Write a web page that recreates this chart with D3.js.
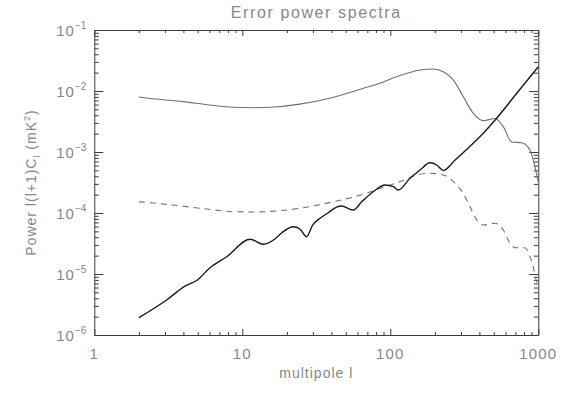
<!DOCTYPE html>
<html><head><meta charset="utf-8">
<script src="https://cdn.jsdelivr.net/npm/d3@7"></script>
<style>
html,body{margin:0;padding:0;background:#fff;}
svg{display:block;}
text{font-family:"Liberation Sans","DejaVu Sans",sans-serif;fill:#878787;}
</style></head>
<body><svg id="c" width="566" height="396"></svg>
<script>
// ---- data ----
const signalL = [2, 2.6, 4, 6, 8.7, 12, 15.4, 24.5, 39, 66, 85, 110, 159, 195, 228, 267, 311, 364, 425, 510, 580, 661, 773, 879, 950, 1000];
const signalP = [8.0e-3, 7.4e-3, 6.7e-3, 5.9e-3, 5.4e-3, 5.3e-3, 5.4e-3, 6.1e-3, 7.6e-3, 0.0111, 0.0134, 0.0171, 0.0221, 0.0230, 0.0207, 0.0151, 8.1e-3, 4.3e-3, 3.26e-3, 3.54e-3, 2.6e-3, 1.46e-3, 1.42e-3, 1.08e-3, 5.7e-4, 3.2e-4];

const noiseL = [2, 3.08, 4.1, 4.97, 6.05, 7.85, 11.3, 13.9, 16.6, 18.5, 22.1, 24.5, 27.2, 29.9, 33.5, 38.1, 43.4, 46.9, 56.2, 64.1, 76.7, 92.1, 105, 113, 136, 159, 185, 206, 228, 274, 325, 425, 523, 715, 1000];
const noiseP = [1.92e-6, 3.75e-6, 6.35e-6, 7.97e-6, 1.27e-5, 1.92e-5, 3.71e-5, 3.07e-5, 3.75e-5, 4.75e-5, 5.96e-5, 5.47e-5, 4.09e-5, 6.35e-5, 8.18e-5, 1.01e-4, 1.25e-4, 1.30e-4, 1.12e-4, 1.53e-4, 2.23e-4, 2.88e-4, 2.70e-4, 2.38e-4, 3.71e-4, 5.07e-4, 6.68e-4, 6.12e-4, 4.98e-4, 7.39e-4, 1.08e-3, 2.03e-3, 3.57e-3, 9.17e-3, 0.0250];

const errL = [2, 3.42, 5.75, 8.69, 11.9, 17.1, 25.8, 35.3, 43.4, 65.7, 89.7, 116, 151, 185, 228, 267, 311, 346, 384, 425, 510, 580, 644, 696, 813, 879, 925, 965, 1000];
const errP = [1.53e-4, 1.35e-4, 1.16e-4, 1.05e-4, 1.04e-4, 1.08e-4, 1.22e-4, 1.41e-4, 1.57e-4, 2.03e-4, 2.64e-4, 3.26e-4, 4.20e-4, 4.48e-4, 4.20e-4, 3.26e-4, 2.10e-4, 1.27e-4, 7.68e-5, 6.35e-5, 6.78e-5, 5.27e-5, 3.19e-5, 2.70e-5, 2.70e-5, 1.92e-5, 1.32e-5, 8.0e-6, 6.6e-6];

const xMajor = [1, 10, 100, 1000];
const xMajorLabels = ["1", "10", "100", "1000"];
const yMajor = [1e-6, 1e-5, 1e-4, 1e-3, 1e-2, 1e-1];
const yExp = ["-6", "-5", "-4", "-3", "-2", "-1"];

const titleText = "Error power spectra";
const xTitle = "multipole l";

// ---- layout ----
const svg = d3.select("#c");
const L = 94.3, R = 538.3, T = 30, B = 335;
const x = d3.scaleLog().domain([1, 1000]).range([L, R]);
const y = d3.scaleLog().domain([1e-6, 1e-1]).range([B, T]);

const axisColor = "#3c3c3c";

function allTicks(lo, hi) {
  const out = [];
  for (let d = lo; d < hi; d *= 10) for (let k = 1; k <= 9; k++) out.push(d * k);
  out.push(hi);
  return out;
}
const xTicks = allTicks(1, 1000);
const yTicks = allTicks(1e-6, 1e-1);
const isMajor = v => Math.abs(Math.log10(v) - Math.round(Math.log10(v))) < 1e-9;

function styleAxis(g, majorLen, minorLen, sign, horiz) {
  g.select(".domain").attr("stroke", axisColor).attr("fill", "none");
  g.selectAll(".tick line").attr("stroke", axisColor)
    .each(function(d) {
      const len = (isMajor(d) ? majorLen : minorLen) * sign;
      d3.select(this).attr(horiz ? "y2" : "x2", len);
    });
  g.selectAll(".tick text").remove();
}
const gB = svg.append("g").attr("transform", `translate(0,${B})`)
  .call(d3.axisBottom(x).tickValues(xTicks).tickSizeOuter(0));
styleAxis(gB, 6, 3, -1, true);
const gT = svg.append("g").attr("transform", `translate(0,${T})`)
  .call(d3.axisTop(x).tickValues(xTicks).tickSizeOuter(0));
styleAxis(gT, 6, 3, 1, true);
const gL = svg.append("g").attr("transform", `translate(${L},0)`)
  .call(d3.axisLeft(y).tickValues(yTicks).tickSizeOuter(0));
styleAxis(gL, 9, 4.5, 1, false);
const gR = svg.append("g").attr("transform", `translate(${R},0)`)
  .call(d3.axisRight(y).tickValues(yTicks).tickSizeOuter(0));
styleAxis(gR, 9, 4.5, -1, false);

// tick labels
svg.append("g").selectAll("text").data(xMajor).join("text")
  .attr("x", d => x(d)).attr("y", B + 24)
  .attr("text-anchor", "middle").attr("font-size", 15).attr("letter-spacing", 1.2)
  .text((d, i) => xMajorLabels[i]);

const yl = svg.append("g").selectAll("text").data(yMajor).join("text")
  .attr("x", L - 8).attr("y", d => y(d) + 6)
  .attr("text-anchor", "end").attr("font-size", 15);
yl.append("tspan").attr("letter-spacing", 1).text("10");
yl.append("tspan").attr("dy", -7).attr("font-size", 10).text((d, i) => yExp[i].replace("-", "\u2212"));

// titles
svg.append("text").attr("x", (L + R) / 2).attr("y", 18)
  .attr("text-anchor", "middle").attr("font-size", 16).attr("letter-spacing", 1.6)
  .text(titleText);
svg.append("text").attr("x", (L + R) / 2).attr("y", 378)
  .attr("text-anchor", "middle").attr("font-size", 14).attr("letter-spacing", 1)
  .text(xTitle);

const yt = svg.append("text")
  .attr("transform", `translate(36,${(T + B) / 2}) rotate(-90)`)
  .attr("text-anchor", "middle").attr("font-size", 14).attr("letter-spacing", 1);
yt.append("tspan").text("Power  l(l+1)C");
yt.append("tspan").attr("dy", 4).attr("font-size", 9).text("l");
yt.append("tspan").attr("dy", -4).text(" (mK");
yt.append("tspan").attr("dy", -6).attr("font-size", 9).text("2");
yt.append("tspan").attr("dy", 6).text(")");

// lines
const line = d3.line().x(d => x(d[0])).y(d => y(d[1])).curve(d3.curveMonotoneX);
const zip = (a, b) => a.map((v, i) => [v, b[i]]);

svg.append("path").datum(zip(signalL, signalP))
  .attr("d", line).attr("fill", "none").attr("stroke", "#6e6e6e").attr("stroke-width", 1.1);
svg.append("path").datum(zip(errL, errP))
  .attr("d", line).attr("fill", "none").attr("stroke", "#707070").attr("stroke-width", 1.1)
  .attr("stroke-dasharray", "6,5");
svg.append("path").datum(zip(noiseL, noiseP))
  .attr("d", line).attr("fill", "none").attr("stroke", "#1a1a1a").attr("stroke-width", 1.4);
</script></body></html>
